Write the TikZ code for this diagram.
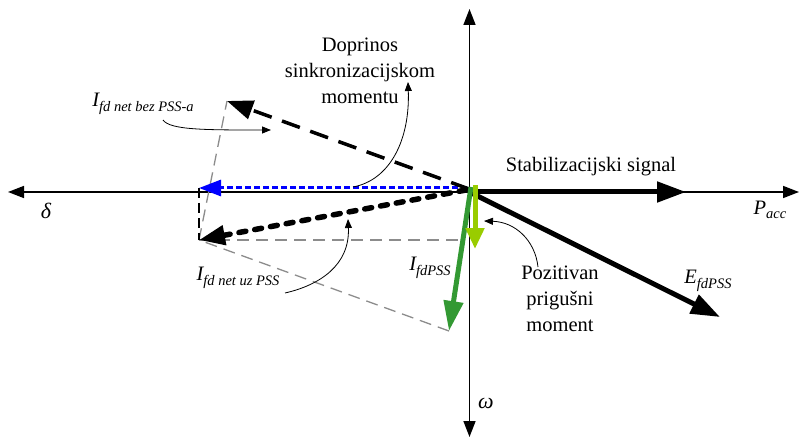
\documentclass[tikz,border=0pt]{standalone}
\usepackage{fontspec}
\setmainfont{Liberation Serif}
\usetikzlibrary{arrows.meta}
\definecolor{lgreen}{RGB}{153,204,0}
\definecolor{dgreen}{RGB}{51,153,51}
\definecolor{dashgray}{RGB}{140,140,140}
\newcommand{\bigI}[2]{{\fontsize{20.5}{22}\selectfont\itshape #1}{\fontsize{14.5}{16}\selectfont\itshape\raisebox{-4.5pt}{#2}}}
\begin{document}
\begin{tikzpicture}[x=1pt,y=-1pt,
  axis/.style={line width=1.6pt, {Triangle[length=16pt,width=12pt]}-{Triangle[length=16pt,width=12pt]}},
  heavy/.style={line width=5pt, -{Triangle[length=29pt,width=20pt]}},
  guide/.style={dashgray, line width=1.3pt, dash pattern=on 12pt off 7pt},
  thin/.style={line width=0.8pt, -{Triangle[length=9pt,width=7pt]}},
  txt/.style={font=\fontsize{20.5}{26}\selectfont, align=center, inner sep=0pt},
  lbl/.style={inner sep=0pt}]
\useasboundingbox (0,0) rectangle (799,438);
% key points
\coordinate (O) at (469.5,192);
\coordinate (L) at (8,192);
\coordinate (R) at (799,192);
\coordinate (T) at (469.5,9);
\coordinate (B) at (469.5,437);
\coordinate (S) at (686,192);
\coordinate (Ef) at (720,317);
\coordinate (Bs) at (467,188);
\coordinate (Bl) at (199,188);
\coordinate (Ns) at (469,189);
\coordinate (Nb) at (227,101);
\coordinate (Us) at (466,190);
\coordinate (Nu) at (199,240);
\coordinate (C1) at (462,240);
\coordinate (G1s) at (475,185);
\coordinate (G1) at (475,249);
\coordinate (G2s) at (471,187);
\coordinate (G2) at (449,331);
% axes
\draw[axis] (L) -- (R);
\draw[axis] (B) -- (T);
% construction lines
\draw[guide] (G2) -- (Nu);
\draw[guide] (Nu) -- (C1);
\draw[guide] (Nu) -- (Nb);
\draw[line width=1.3pt, dash pattern=on 10pt off 5pt] (Bl) -- (Nu);
% vectors
\draw[blue, line width=3pt, dash pattern=on 6pt off 3pt, -{Triangle[length=22pt,width=16pt]}] (Bs) -- (Bl);
\draw[line width=3.5pt, dash pattern=on 19pt off 11pt, -{Triangle[length=26pt,width=19pt]}] (Ns) -- (Nb);
\draw[line width=5.5pt, line cap=round, dash pattern=on 7pt off 9pt, -{Triangle[length=26pt,width=19pt]}] (Us) -- (Nu);
\draw[heavy] (O) -- (S);
\draw[heavy] (O) -- (Ef);
\draw[dgreen, line width=5pt, -{Triangle[length=30pt,width=19pt]}] (G2s) -- (G2);
\draw[lgreen, line width=5pt, -{Triangle[length=21pt,width=18pt]}] (G1s) -- (G1);
% labels
\node[lbl, font=\fontsize{22}{22}\selectfont\itshape] (delta) at (46,211) {δ};
\node[lbl, font=\fontsize{22}{22}\selectfont\itshape] (omega) at (486,403) {ω};
\node[lbl] (pacc) at (770,210) {\bigI{P}{acc}};
\node[lbl] (efd) at (708,281) {\bigI{E}{fdPSS}};
\node[lbl] (ifd) at (430,268) {\bigI{I}{fdPSS}};
\node[lbl] (ibez) at (143,104) {\bigI{I}{fd net bez PSS-a}};
\node[lbl] (iuz) at (238,278) {\bigI{I}{fd net uz PSS}};
\node[txt] (stab) at (591,167) {Stabilizacijski signal};
\node[txt] (dopr) at (360,71) {Doprinos\\sinkronizacijskom\\momentu};
\node[txt] (poz) at (560,299) {Pozitivan\\prigušni\\moment};
% pointer curves
\coordinate (a1s) at (163,120);
\coordinate (a1e) at (271,130);
\draw[thin] (a1s) .. controls (170,130) and (205,130) .. (a1e);
\coordinate (a2s) at (285,293);
\coordinate (a2e) at (348,219);
\draw[thin] (a2s) .. controls (320,285) and (350,265) .. (a2e);
\coordinate (a3s) at (353,187);
\coordinate (a3e) at (408,82);
\draw[thin] (a3s) .. controls (390,180) and (410,140) .. (a3e);
\coordinate (a4s) at (538,267);
\coordinate (a4e) at (484,221);
\draw[thin] (a4s) .. controls (535,240) and (515,222) .. (a4e);
\end{tikzpicture}
\end{document}
